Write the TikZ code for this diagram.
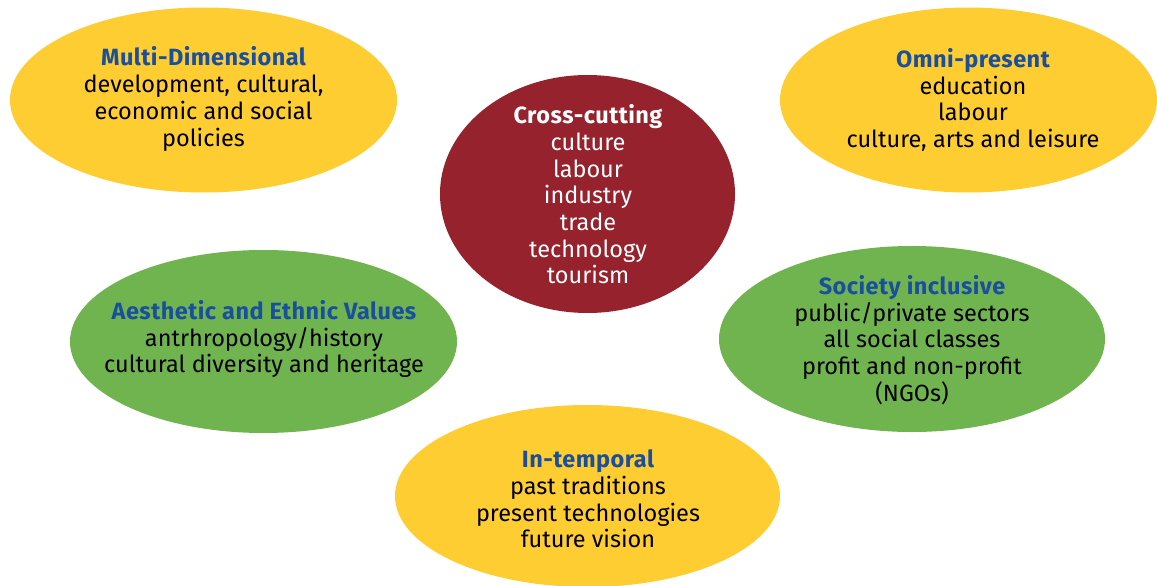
\documentclass[tikz,border=0pt]{standalone}
\usepackage{fontspec}
\setmainfont{Fira Sans}
\definecolor{yel}{HTML}{FECD31}
\definecolor{grn}{HTML}{70B450}
\definecolor{redc}{HTML}{95222D}
\definecolor{ttl}{HTML}{1A4F9E}
\newcommand{\hdtext}[1]{{\bfseries\addfontfeatures{LetterSpace=2}#1}}
\begin{document}
\begin{tikzpicture}[x=1pt,y=-1pt,
  lbl/.style={align=center,font=\fontsize{23.5}{26.7}\selectfont,text=black,inner sep=0pt}]
\useasboundingbox (0,0) rectangle (1157,586);
\fill[yel] (203.5,100) ellipse [x radius=193.5pt, y radius=92.5pt];
\fill[yel] (968.5,100) ellipse [x radius=188.5pt, y radius=92.5pt];
\fill[redc] (587.5,194) ellipse [x radius=147.5pt, y radius=119pt];
\fill[grn] (263.5,341.5) ellipse [x radius=193.5pt, y radius=91.5pt];
\fill[grn] (912,339) ellipse [x radius=193pt, y radius=93pt];
\fill[yel] (587.5,496) ellipse [x radius=192.5pt, y radius=91pt];
\node[lbl] (multi) at (203.5,99) {{\color{ttl}\hdtext{Multi-Dimensional}}\\development, cultural,\\economic and social\\policies};
\node[lbl] (omni) at (973,100) {{\color{ttl}\hdtext{Omni-present}}\\education\\labour\\culture, arts and leisure};
\node[lbl,text=white] (cross) at (588,194.5) {\hdtext{Cross-cutting}\\culture\\labour\\industry\\trade\\technology\\tourism};
\node[lbl] (aes) at (264,339) {{\color{ttl}\hdtext{Aesthetic and Ethnic Values}}\\antrhropology/history\\cultural diversity and heritage};
\node[lbl] (soc) at (912,340) {{\color{ttl}\hdtext{Society inclusive}}\\public/private sectors\\all social classes\\profit and non-profit\\(NGOs)};
\node[lbl] (temp) at (588,499) {{\color{ttl}\hdtext{In-temporal}}\\past traditions\\present technologies\\future vision};
\end{tikzpicture}
\end{document}
